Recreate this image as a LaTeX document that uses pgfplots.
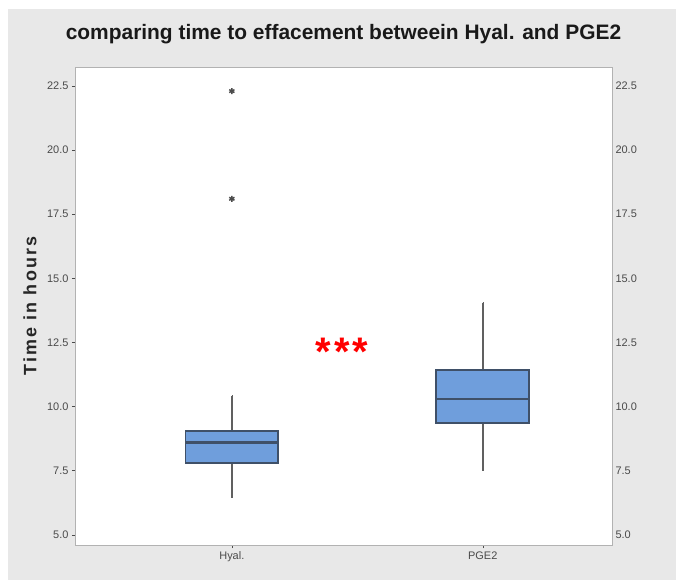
\documentclass[border=0pt]{standalone}
\usepackage{pgfplots}
\pgfplotsset{compat=1.18}
\usepgfplotslibrary{statistics}
\usepackage{fontspec}
\setmainfont{Liberation Sans}
\definecolor{boxfill}{HTML}{6F9EDC}
\definecolor{boxedge}{HTML}{3F5068}
\definecolor{bg}{HTML}{E8E8E8}
\definecolor{tickc}{HTML}{4A4A4A}
\begin{document}
\begin{tikzpicture}
\fill[white] (-75bp,-41bp) rectangle (607bp,545bp);
\fill[bg] (-67bp,-35bp) rectangle (601bp,536bp);
\fill[white] (0bp,0bp) rectangle (537bp,478bp);
\useasboundingbox (-75bp,-41bp) rectangle (607bp,545bp);
\pgfplotsset{myticks/.style={
  ytick={5,7.5,10,12.5,15,17.5,20,22.5},
  /pgf/number format/assume math mode=true,
  yticklabel style={/pgf/number format/fixed,/pgf/number format/fixed zerofill,/pgf/number format/precision=1,font=\fontsize{11}{11}\selectfont,text=tickc},
}}
\begin{axis}[at={(0bp,0bp)},anchor=south west,
  width=537bp,height=478bp,scale only axis,
  xmin=0.375,xmax=2.515,ymin=4.6,ymax=23.24,
  xtick={1,2},xticklabels={Hyal.,PGE2},
  xticklabel style={font=\fontsize{11}{11}\selectfont,text=tickc},
  myticks,
  ytick pos=left, xtick pos=bottom,
  tick align=outside, major tick length=3bp,
  tick style={tickc,thin},
  axis line style={gray!60},
  title={comparing time to effacement betweein Hyal. and PGE2},
  title style={at={(axis description cs:0.5,1.056)},anchor=center,font=\bfseries\fontsize{21}{21}\selectfont,text=black!90},
  ylabel={Time in hours},
  ylabel style={at={(axis description cs:-0.084,0.5)},anchor=center,font=\bfseries\fontsize{18}{18}\selectfont\addfontfeatures{LetterSpace=12},text=black!85},
  boxplot/draw direction=y,
  boxplot/every box/.style={draw=boxedge,fill=boxfill,line width=1.8bp},
  boxplot/every whisker/.style={draw=gray!75!black,line width=1.6bp},
  boxplot/every median/.style={draw=boxedge,line width=2.6bp},
  cycle list={{draw=boxedge,fill=boxfill}},
]
\addplot+[mark=asterisk,mark options={draw=black!70,line width=1.5bp,mark size=3bp},
  boxplot prepared={draw position=1,lower whisker=6.45,lower quartile=7.8,median=8.6,upper quartile=9.05,upper whisker=10.4,box extend=0.37,whisker extend=0.0001}]
  coordinates {(1,22.3) (1,18.1)};
\addplot+[mark=asterisk,
  boxplot prepared={draw position=2,lower whisker=7.5,lower quartile=9.35,median=10.3,upper quartile=11.43,upper whisker=14.05,box extend=0.37,whisker extend=0.0001}]
  coordinates {};
\node[text=red,font=\bfseries\fontsize{40}{40}\selectfont,anchor=base,inner sep=0pt] at (axis cs:1.44,11.6) {*\kern3bp*\kern3bp*};
\end{axis}
\begin{axis}[at={(0bp,0bp)},anchor=south west,
  width=537bp,height=478bp,scale only axis,
  xmin=0.375,xmax=2.515,ymin=4.6,ymax=23.24,
  hide x axis, axis y line*=right, y axis line style={draw=none},
  myticks, major tick length=0pt,
]
\end{axis}
\end{tikzpicture}
\end{document}
